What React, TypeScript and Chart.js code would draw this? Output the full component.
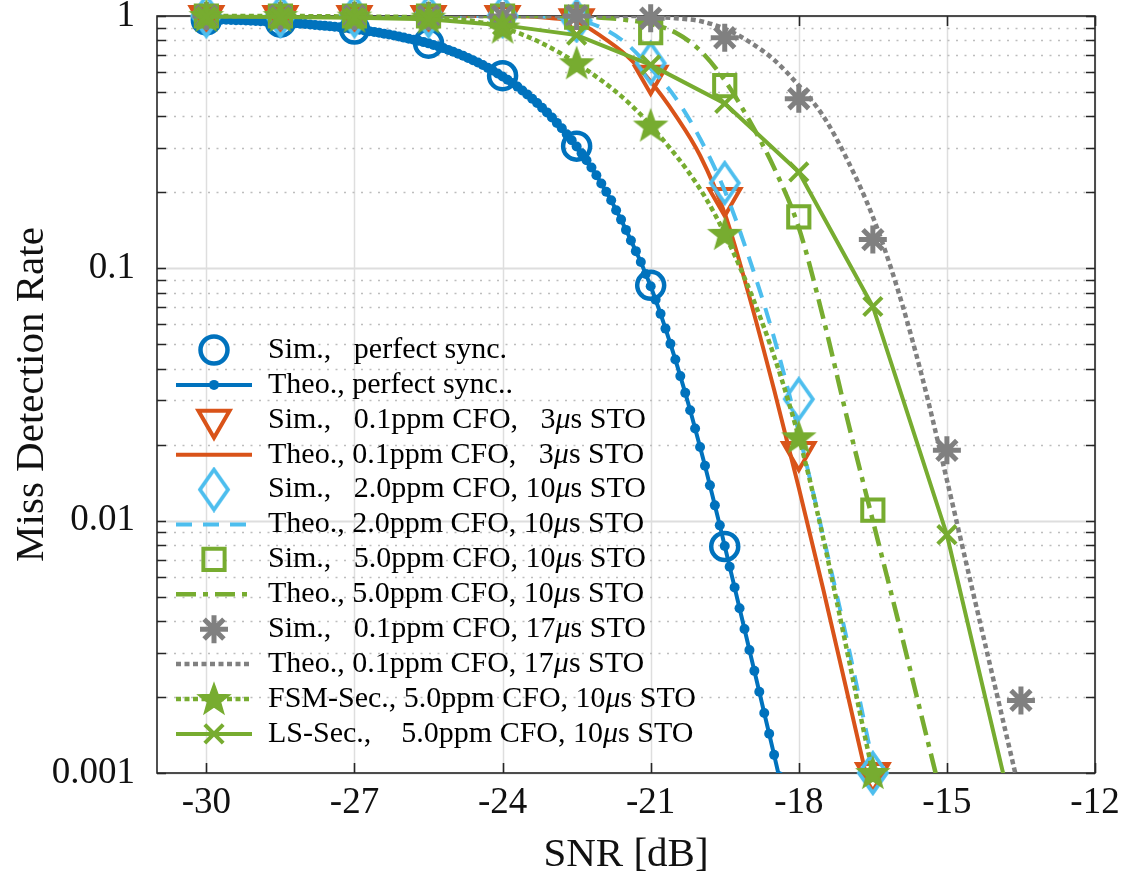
import React, { useEffect, useRef } from "react";
import { Chart, registerables } from "chart.js";
import { drawPoint } from "chart.js/helpers";

Chart.register(...registerables);

// ---------------- data ----------------
const SIM_SNR = [-30, -28.5, -27, -25.5, -24, -22.5, -21, -19.5, -18, -16.5, -15, -13.5];
const THEO_SNR = [
  -30, -29.5, -29, -28.5, -28, -27.5, -27, -26.5, -26, -25.5, -25, -24.5, -24, -23.5, -23,
  -22.5, -22, -21.5, -21, -20.5, -20, -19.5, -19, -18.5, -18, -17.5, -17, -16.5, -16, -15.5,
  -15, -14.5, -14, -13.5, -13, -12.5, -12,
];
const FINE_SNR_START = -30;
const FINE_SNR_STEP = 0.1;

const X_TICKS = [-30, -27, -24, -21, -18, -15, -12];
const Y_DECADES = [0.001, 0.01, 0.1, 1];
const Y_TICK_LABELS = ["0.001", "0.01", "0.1", "1"];

const SIM_PERFECT = [0.965, 0.945, 0.888, 0.78, 0.58, 0.305, 0.0856, 0.0079];
const THEO_PERFECT = [
  0.970, 0.969, 0.968, 0.967, 0.966, 0.965, 0.963, 0.962, 0.960, 0.958, 0.956, 0.954, 0.952, 0.950, 0.947, 0.944,
  0.941, 0.938, 0.935, 0.932, 0.929, 0.925, 0.922, 0.918, 0.914, 0.910, 0.906, 0.902, 0.897, 0.893, 0.888,
  0.883, 0.877, 0.871, 0.865, 0.858, 0.851, 0.844, 0.837, 0.829, 0.821, 0.813, 0.805, 0.797, 0.788, 0.779,
  0.768, 0.758, 0.746, 0.734, 0.722, 0.709, 0.696, 0.682, 0.668, 0.654, 0.639, 0.623, 0.608, 0.592, 0.576,
  0.559, 0.542, 0.525, 0.507, 0.489, 0.470, 0.452, 0.433, 0.415, 0.396, 0.377, 0.359, 0.340, 0.322, 0.304,
  0.286, 0.268, 0.251, 0.234, 0.217, 0.201, 0.186, 0.170, 0.156, 0.142, 0.129, 0.117, 0.106, 0.0949, 0.0849,
  0.0751, 0.0660, 0.0577, 0.0502, 0.0435, 0.0374, 0.0321, 0.0274, 0.0232, 0.0196, 0.0165, 0.0138, 0.0115, 0.00958, 0.00794,
  0.00657, 0.00544, 0.00450, 0.00372, 0.00307, 0.00254, 0.00210, 0.00173, 0.00143, 0.00118, 0.00097, 0.00080,
];

const SIM_CFO01_STO3 = [1, 1, 1, 1, 1, 0.97, 0.58, 0.19, 0.0187, 0.001];
const THEO_CFO01_STO3 = [
  1, 1, 1, 1, 1, 1, 1, 1, 1, 1, 1, 1, 1, 0.995, 0.98, 0.95, 0.83, 0.70, 0.55, 0.405, 0.28, 0.165,
  0.077, 0.033, 0.0135, 0.0053, 0.0020, 0.00075,
];
const SIM_CFO2_STO10 = [1, 1, 1, 1, 1, 0.96, 0.65, 0.218, 0.0303, 0.001];
const THEO_CFO2_STO10 = [
  1, 1, 1, 1, 1, 1, 1, 1, 1, 1, 1, 1, 1, 1, 0.99, 0.965, 0.9, 0.78, 0.62, 0.475, 0.327, 0.203,
  0.109, 0.053, 0.0224, 0.0086, 0.0032, 0.0011, 0.0004,
];
const SIM_CFO5_STO10 = [1, 1, 1, 1, 1, 0.99, 0.86, 0.53, 0.16, 0.011];
const THEO_CFO5_STO10 = [
  1, 1, 1, 1, 1, 1, 1, 1, 1, 1, 1, 1, 1, 1, 1, 0.995, 0.985, 0.965, 0.93, 0.86, 0.73, 0.556,
  0.385, 0.25, 0.145, 0.063, 0.0245, 0.0100, 0.0041, 0.00164, 0.00066,
];
const SIM_CFO01_STO17 = [1, 1, 1, 1, 1, 1, 0.98, 0.82, 0.47, 0.13, 0.019, 0.00194];
const THEO_CFO01_STO17 = [
  1, 1, 1, 1, 1, 1, 1, 1, 1, 1, 1, 1, 1, 1, 1, 1, 1, 1, 0.995, 0.98, 0.955, 0.89, 0.79, 0.67,
  0.53, 0.40, 0.265, 0.16, 0.083, 0.037, 0.0145, 0.0055, 0.0021, 0.0008,
];
const FSM_SEC = [1, 1, 0.995, 0.985, 0.9, 0.65, 0.368, 0.137, 0.0214, 0.001];
const LS_SEC = [0.995, 0.99, 0.985, 0.97, 0.92, 0.84, 0.64, 0.45, 0.241, 0.0706, 0.0088, 0.0005];

const LABELS = [
  "Sim.,   perfect sync.",
  "Theo., perfect sync..",
  "Sim.,   0.1ppm CFO,   3μs STO",
  "Theo., 0.1ppm CFO,   3μs STO",
  "Sim.,   2.0ppm CFO, 10μs STO",
  "Theo., 2.0ppm CFO, 10μs STO",
  "Sim.,   5.0ppm CFO, 10μs STO",
  "Theo., 5.0ppm CFO, 10μs STO",
  "Sim.,   0.1ppm CFO, 17μs STO",
  "Theo., 0.1ppm CFO, 17μs STO",
  "FSM-Sec., 5.0ppm CFO, 10μs STO",
  "LS-Sec.,    5.0ppm CFO, 10μs STO",
];

// ---------------- style ----------------
const BLUE = "#0072BD";
const ORANGE = "#D95319";
const LBLUE = "#4DBEEE";
const GREEN = "#77AC30";
const GRAY = "#808080";
const AXIS_COLOR = "#262626";
const GRID_MAJOR = "#dedede";
const GRID_MINOR = "#bdbdbd";
const FONT = '"Liberation Serif", "Times New Roman", serif';

const W = 1130;
const H = 881;

const pts = (xs: number[], ys: number[]) => ys.map((y, i) => ({ x: xs[i], y }));
const isDecade = (v: number) => Y_DECADES.some((d) => Math.abs(d - v) < d * 1e-6);

function makePentagram(color: string) {
  const size = 38;
  const c = document.createElement("canvas");
  c.width = size;
  c.height = size;
  const g = c.getContext("2d")!;
  const cx = size / 2;
  const cy = size / 2 + 1;
  const R = 16.5;
  const r = 6.8;
  g.beginPath();
  for (let k = 0; k < 10; k++) {
    const ang = -Math.PI / 2 + (k * Math.PI) / 5;
    const rad = k % 2 === 0 ? R : r;
    const px = cx + rad * Math.cos(ang);
    const py = cy + rad * Math.sin(ang);
    if (k === 0) g.moveTo(px, py);
    else g.lineTo(px, py);
  }
  g.closePath();
  g.fillStyle = color;
  g.fill();
  g.lineWidth = 1.5;
  g.strokeStyle = color;
  g.stroke();
  return c;
}

function makeDiamond(color: string) {
  const c = document.createElement("canvas");
  c.width = 34;
  c.height = 46;
  const g = c.getContext("2d")!;
  g.beginPath();
  g.moveTo(17, 3);
  g.lineTo(31, 23);
  g.lineTo(17, 43);
  g.lineTo(3, 23);
  g.closePath();
  g.lineWidth = 3.8;
  g.strokeStyle = color;
  g.lineJoin = "miter";
  g.stroke();
  return c;
}

const frameAndGridPlugin = {
  id: "frameAndGrid",
  beforeDatasetsDraw(chart: any) {
    const { ctx, chartArea: a, scales } = chart;
    const xs = scales.x;
    const ys = scales.y;
    ctx.save();
    // vertical grid
    ctx.lineWidth = 1.5;
    ctx.strokeStyle = GRID_MAJOR;
    ctx.setLineDash([]);
    xs.ticks.forEach((t: any) => {
      const px = Math.round(xs.getPixelForValue(t.value)) + 0.5;
      ctx.beginPath();
      ctx.moveTo(px, a.top);
      ctx.lineTo(px, a.bottom);
      ctx.stroke();
    });
    // horizontal grid
    ys.ticks.forEach((t: any) => {
      const py = Math.round(ys.getPixelForValue(t.value)) + 0.5;
      if (isDecade(t.value)) {
        ctx.setLineDash([]);
        ctx.strokeStyle = GRID_MAJOR;
        ctx.lineWidth = 1.8;
      } else {
        ctx.setLineDash([2, 6.5]);
        ctx.strokeStyle = GRID_MINOR;
        ctx.lineWidth = 1.6;
      }
      ctx.beginPath();
      ctx.moveTo(a.left, py);
      ctx.lineTo(a.right, py);
      ctx.stroke();
    });
    // box
    ctx.setLineDash([]);
    ctx.strokeStyle = AXIS_COLOR;
    ctx.lineWidth = 1.6;
    ctx.strokeRect(a.left, a.top, a.right - a.left, a.bottom - a.top);
    // ticks
    const TL = 10;
    xs.ticks.forEach((t: any) => {
      const px = Math.round(xs.getPixelForValue(t.value)) + 0.5;
      ctx.beginPath();
      ctx.moveTo(px, a.bottom);
      ctx.lineTo(px, a.bottom - TL);
      ctx.moveTo(px, a.top);
      ctx.lineTo(px, a.top + TL);
      ctx.stroke();
    });
    ys.ticks.forEach((t: any) => {
      const py = Math.round(ys.getPixelForValue(t.value)) + 0.5;
      ctx.beginPath();
      ctx.moveTo(a.left, py);
      ctx.lineTo(a.left + 9, py);
      ctx.moveTo(a.right, py);
      ctx.lineTo(a.right - 9, py);
      ctx.stroke();
    });
    ctx.restore();
  },
};

const LEGEND_TOP = 334; // offset of first row from chart-area top
const LEGEND_STEP = 34.9;
const LEGEND_LINE_X0 = 19;
const LEGEND_LINE_X1 = 95;
const LEGEND_MARK_X = 57;
const LEGEND_TEXT_X = 111;
const LEGEND_FONT_SIZE = 30;

const legendPlugin = {
  id: "matlabLegend",
  afterDatasetsDraw(chart: any) {
    const { ctx, chartArea: a } = chart;
    ctx.save();
    chart.data.datasets.forEach((ds: any, i: number) => {
      const y = a.top + LEGEND_TOP + i * LEGEND_STEP;
      if (ds.showLine !== false) {
        ctx.setLineDash(ds.borderDash || []);
        ctx.strokeStyle = ds.borderColor;
        ctx.lineWidth = ds.borderWidth;
        ctx.beginPath();
        ctx.moveTo(a.left + LEGEND_LINE_X0, y);
        ctx.lineTo(a.left + LEGEND_LINE_X1, y);
        ctx.stroke();
      }
      if (ds.pointRadius > 0) {
        ctx.setLineDash([]);
        ctx.strokeStyle = ds.pointBorderColor;
        ctx.fillStyle = ds.pointBackgroundColor;
        ctx.lineWidth = ds.pointBorderWidth;
        drawPoint(
          ctx,
          {
            pointStyle: ds.pointStyle,
            rotation: ds.pointRotation || 0,
            radius: ds.pointRadius,
            borderWidth: ds.pointBorderWidth,
          } as any,
          a.left + LEGEND_MARK_X,
          y
        );
      }
      // text with italic mu
      ctx.fillStyle = "#000";
      ctx.textBaseline = "middle";
      ctx.textAlign = "left";
      let tx = a.left + LEGEND_TEXT_X;
      const parts = String(ds.label).split("μ");
      parts.forEach((p: string, k: number) => {
        ctx.font = `${LEGEND_FONT_SIZE}px ${FONT}`;
        ctx.fillText(p, tx, y);
        tx += ctx.measureText(p).width;
        if (k < parts.length - 1) {
          ctx.font = `italic ${LEGEND_FONT_SIZE}px ${FONT}`;
          ctx.fillText("μ", tx, y);
          tx += ctx.measureText("μ").width;
        }
      });
    });
    ctx.restore();
  },
};

export default function App() {
  const ref = useRef<HTMLCanvasElement>(null);

  useEffect(() => {
    const prevMargin = document.body.style.margin;
    document.body.style.margin = "0";
    const canvas = ref.current!;
    const pentagram = makePentagram(GREEN);
    const diamond = makeDiamond(LBLUE);
    const fineSnr = THEO_PERFECT.map((_, i) => Number((FINE_SNR_START + i * FINE_SNR_STEP).toFixed(1)));

    const yGrid: number[] = [];
    for (let d = 0; d < Y_DECADES.length - 1; d++) {
      for (let k = 1; k <= 9; k++) yGrid.push(Number((Y_DECADES[d] * k).toPrecision(3)));
    }
    yGrid.push(Y_DECADES[Y_DECADES.length - 1]);

    const simBase = { showLine: false, clip: false as any };
    const lineClip = { left: 20, top: 20, right: 20, bottom: 0 };

    const datasets: any[] = [
      {
        ...simBase,
        label: LABELS[0],
        data: pts(SIM_SNR, SIM_PERFECT),
        borderColor: BLUE,
        pointStyle: "circle",
        pointRadius: 13.5,
        pointBorderWidth: 4.5,
        pointBorderColor: BLUE,
        pointBackgroundColor: "rgba(0,0,0,0)",
      },
      {
        label: LABELS[1],
        data: pts(fineSnr, THEO_PERFECT),
        borderColor: BLUE,
        borderWidth: 4,
        pointStyle: "circle",
        pointRadius: 5,
        pointBorderWidth: 0,
        pointBorderColor: BLUE,
        pointBackgroundColor: BLUE,
        clip: lineClip,
      },
      {
        ...simBase,
        label: LABELS[2],
        data: pts(SIM_SNR, SIM_CFO01_STO3),
        borderColor: ORANGE,
        pointStyle: "triangle",
        pointRotation: 180,
        pointRadius: 18,
        pointBorderWidth: 4,
        pointBorderColor: ORANGE,
        pointBackgroundColor: "rgba(0,0,0,0)",
      },
      {
        label: LABELS[3],
        data: pts(THEO_SNR, THEO_CFO01_STO3),
        borderColor: ORANGE,
        borderWidth: 4,
        pointRadius: 0,
        cubicInterpolationMode: "monotone",
      },
      {
        ...simBase,
        label: LABELS[4],
        data: pts(SIM_SNR, SIM_CFO2_STO10),
        borderColor: LBLUE,
        pointStyle: diamond,
        pointRadius: 15,
        pointBorderWidth: 3.8,
        pointBorderColor: LBLUE,
        pointBackgroundColor: "rgba(0,0,0,0)",
      },
      {
        label: LABELS[5],
        data: pts(THEO_SNR, THEO_CFO2_STO10),
        borderColor: LBLUE,
        borderWidth: 4,
        borderDash: [16, 11],
        pointRadius: 0,
        cubicInterpolationMode: "monotone",
      },
      {
        ...simBase,
        label: LABELS[6],
        data: pts(SIM_SNR, SIM_CFO5_STO10),
        borderColor: GREEN,
        pointStyle: "rect",
        pointRadius: 15,
        pointBorderWidth: 4,
        pointBorderColor: GREEN,
        pointBackgroundColor: "rgba(0,0,0,0)",
      },
      {
        label: LABELS[7],
        data: pts(THEO_SNR, THEO_CFO5_STO10),
        borderColor: GREEN,
        borderWidth: 4.5,
        borderDash: [20, 7, 5, 7],
        pointRadius: 0,
        cubicInterpolationMode: "monotone",
      },
      {
        ...simBase,
        label: LABELS[8],
        data: pts(SIM_SNR, SIM_CFO01_STO17),
        borderColor: GRAY,
        pointStyle: "star",
        pointRadius: 14,
        pointBorderWidth: 5,
        pointBorderColor: GRAY,
        pointBackgroundColor: GRAY,
      },
      {
        label: LABELS[9],
        data: pts(THEO_SNR, THEO_CFO01_STO17),
        borderColor: GRAY,
        borderWidth: 4.5,
        borderDash: [5, 3.5],
        pointRadius: 0,
        cubicInterpolationMode: "monotone",
      },
      {
        label: LABELS[10],
        data: pts(SIM_SNR, FSM_SEC),
        borderColor: GREEN,
        borderWidth: 4.5,
        borderDash: [5, 3.5],
        pointStyle: pentagram,
        pointRadius: 16,
        pointBorderWidth: 1.5,
        pointBorderColor: GREEN,
        pointBackgroundColor: GREEN,
        cubicInterpolationMode: "monotone",
        clip: false,
      },
      {
        label: LABELS[11],
        data: pts(SIM_SNR, LS_SEC),
        borderColor: GREEN,
        borderWidth: 4,
        pointStyle: "crossRot",
        pointRadius: 13,
        pointBorderWidth: 4,
        pointBorderColor: GREEN,
        pointBackgroundColor: GREEN,
        clip: lineClip,
      },
    ];
    datasets.forEach((d, i) => {
      d.order = datasets.length - i;
      d.pointHoverRadius = d.pointRadius;
      d.fill = false;
    });

    const chart = new Chart(canvas, {
      type: "line",
      data: { datasets },
      plugins: [frameAndGridPlugin, legendPlugin],
      options: {
        animation: false,
        responsive: false,
        devicePixelRatio: 1,
        events: [],
        layout: { autoPadding: false, padding: { top: 16, right: 35, bottom: 0, left: 0 } },
        plugins: { legend: { display: false }, tooltip: { enabled: false } },
        scales: {
          x: {
            type: "linear",
            min: -31,
            max: -12,
            afterBuildTicks: (s: any) => {
              s.ticks = X_TICKS.map((v) => ({ value: v }));
            },
            afterFit: (s: any) => {
              s.height = 108;
              s.paddingLeft = 0;
              s.paddingRight = 0;
            },
            grid: { display: false },
            border: { display: false },
            ticks: {
              autoSkip: false,
              maxRotation: 0,
              padding: 0,
              color: "#111",
              font: { family: FONT, size: 37 },
              callback: (v: any) => String(v),
            },
            title: {
              display: true,
              text: "SNR [dB]",
              color: "#111",
              font: { family: FONT, size: 41 },
              padding: { top: 0, bottom: 1 },
            },
          },
          y: {
            type: "logarithmic",
            min: 0.001,
            max: 1,
            afterBuildTicks: (s: any) => {
              s.ticks = yGrid.map((v) => ({ value: v, major: isDecade(v) }));
            },
            afterFit: (s: any) => {
              s.width = 157;
              s.paddingTop = 0;
              s.paddingBottom = 0;
            },
            grid: { display: false },
            border: { display: false },
            ticks: {
              autoSkip: false,
              padding: 14,
              color: "#111",
              font: { family: FONT, size: 37, lineHeight: 0.6 },
              callback: (v: any) => {
                const idx = Y_DECADES.findIndex((d) => Math.abs(d - Number(v)) < d * 1e-6);
                return idx >= 0 ? Y_TICK_LABELS[idx] : "";
              },
            },
            title: {
              display: true,
              text: "Miss Detection Rate",
              color: "#111",
              font: { family: FONT, size: 41 },
              padding: { top: 8, bottom: 0 },
            },
          },
        },
      } as any,
    });

    return () => {
      chart.destroy();
      document.body.style.margin = prevMargin;
    };
  }, []);

  return (
    <div style={{ position: "relative", width: W, height: H }}>
      <canvas ref={ref} width={W} height={H} style={{ display: "block", width: W, height: H }} />
    </div>
  );
}
